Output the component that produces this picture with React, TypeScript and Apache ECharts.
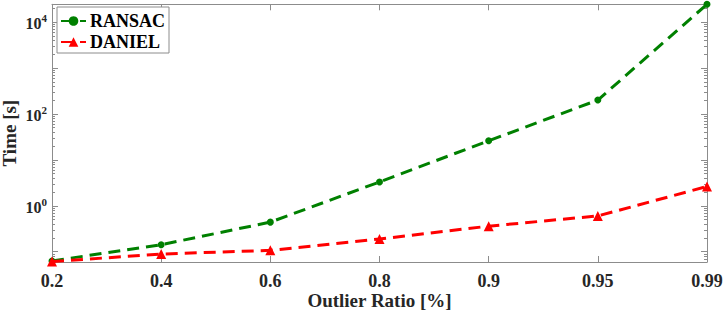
import React, { useEffect, useRef } from "react";
import * as echarts from "echarts";

const categories = ["0.2", "0.4", "0.6", "0.8", "0.9", "0.95", "0.99"];
const ransacTime = [0.063, 0.142, 0.44, 3.3, 26, 200, 24300];
const danielTime = [0.061, 0.089, 0.107, 0.189, 0.36, 0.6, 2.63];
const seriesNames = ["RANSAC", "DANIEL"];
const yLabelValues = [1, 100, 10000];
const yMinValue = 0.0597;
const yMaxValue = 24300;

const FONT = "'Liberation Serif', 'Times New Roman', serif";
const AXIS_COLOR = "#8c8c8c";
const TEXT_COLOR = "#262626";

const lg = (v: number) => Math.log10(v);

export default function App() {
  const ref = useRef<HTMLDivElement>(null);
  useEffect(() => {
    document.body.style.margin = "0";
    if (!ref.current) return;
    const chart = echarts.init(ref.current, undefined, { renderer: "svg" });
    const yMin = lg(yMinValue);
    const yMax = lg(yMaxValue);
    const majors: number[] = [];
    const minors: number[] = [];
    for (let n = -2; n <= 4; n++) {
      for (let k = 1; k <= 9; k++) {
        const e = lg(k * Math.pow(10, n));
        if (e < yMin - 1e-9 || e > yMax + 1e-9) continue;
        if (k === 1) majors.push(e);
        else minors.push(e);
      }
    }
    const labelVals = yLabelValues.map(lg);
    const baseY = (position: string, major: boolean, showLine: boolean, showLabel: boolean) => ({
      type: "value",
      position,
      min: yMin,
      max: yMax,
      splitLine: { show: false },
      axisLine: { show: showLine, onZero: false, lineStyle: { color: AXIS_COLOR, width: 1 } },
      axisTick: {
        show: true,
        inside: true,
        length: major ? 6 : 3,
        customValues: major ? majors : minors,
        lineStyle: { color: AXIS_COLOR, width: 1 },
      },
      axisLabel: showLabel
        ? {
            show: true,
            customValues: labelVals,
            margin: 5,
            formatter: (v: number) => `{b|10}{s|${Math.round(v)}}`,
            rich: {
              b: { fontFamily: FONT, fontWeight: "bold", fontSize: 16, color: TEXT_COLOR, verticalAlign: "bottom" },
              s: { fontFamily: FONT, fontWeight: "bold", fontSize: 11, color: TEXT_COLOR, verticalAlign: "top", padding: [0, 0, 8, 0] },
            },
          }
        : { show: false },
    });
    const option: any = {
      animation: false,
      backgroundColor: "#ffffff",
      grid: { left: 52, right: 16, top: 4.3, bottom: 49, containLabel: false, outerBoundsMode: "none" },
      legend: {
        orient: "vertical",
        left: 57,
        top: 7,
        padding: [5, 4, 2, 3],
        itemGap: 3,
        itemWidth: 25,
        itemHeight: 12,
        backgroundColor: "#ffffff",
        borderColor: AXIS_COLOR,
        borderWidth: 1,
        borderRadius: 0,
        data: seriesNames,
        textStyle: { fontFamily: FONT, fontWeight: "bold", fontSize: 18, color: "#000", lineHeight: 18, padding: [0, 0, 0, -1] },
      },
      xAxis: [
        {
          type: "category",
          data: categories,
          boundaryGap: false,
          position: "bottom",
          name: "Outlier Ratio [%]",
          nameLocation: "middle",
          nameGap: 29,
          nameMoveOverlap: false,
          nameTextStyle: { fontFamily: FONT, fontWeight: "bold", fontSize: 19, color: TEXT_COLOR, verticalAlign: "top", lineHeight: 19 },
          axisLine: { show: true, onZero: false, lineStyle: { color: AXIS_COLOR, width: 1 } },
          axisTick: { show: true, inside: true, length: 6, interval: 0, lineStyle: { color: AXIS_COLOR } },
          axisLabel: { show: true, interval: 0, margin: 10, fontFamily: FONT, fontWeight: "bold", fontSize: 18, color: TEXT_COLOR },
          splitLine: { show: false },
        },
        {
          type: "category",
          data: categories,
          boundaryGap: false,
          position: "top",
          axisLine: { show: true, onZero: false, lineStyle: { color: AXIS_COLOR, width: 1 } },
          axisTick: { show: true, inside: true, length: 6, interval: 0, lineStyle: { color: AXIS_COLOR } },
          axisLabel: { show: false },
          splitLine: { show: false },
        },
      ],
      yAxis: [
        {
          ...baseY("left", true, true, true),
          name: "Time [s]",
          nameLocation: "middle",
          nameGap: 33,
          nameMoveOverlap: false,
          nameTextStyle: { fontFamily: FONT, fontWeight: "bold", fontSize: 19, color: TEXT_COLOR },
        },
        baseY("left", false, false, false),
        baseY("right", true, true, false),
        baseY("right", false, false, false),
      ],
      series: [
        {
          name: seriesNames[0],
          type: "line",
          data: ransacTime.map(lg),
          xAxisIndex: 0,
          yAxisIndex: 0,
          clip: false,
          symbol: "circle",
          symbolSize: 7,
          color: "#008000",
          lineStyle: { width: 3, type: [12, 7], color: "#008000" },
          itemStyle: { color: "#008000" },
          z: 2,
        },
        {
          name: seriesNames[1],
          type: "line",
          data: danielTime.map(lg),
          xAxisIndex: 0,
          yAxisIndex: 0,
          clip: false,
          symbol: "triangle",
          symbolSize: 10,
          color: "#ff0000",
          lineStyle: { width: 3, type: [12, 7], color: "#ff0000" },
          itemStyle: { color: "#ff0000" },
          z: 3,
        },
      ],
    };
    chart.setOption(option);
    return () => chart.dispose();
  }, []);
  return <div ref={ref} style={{ width: 723, height: 311 }} />;
}
